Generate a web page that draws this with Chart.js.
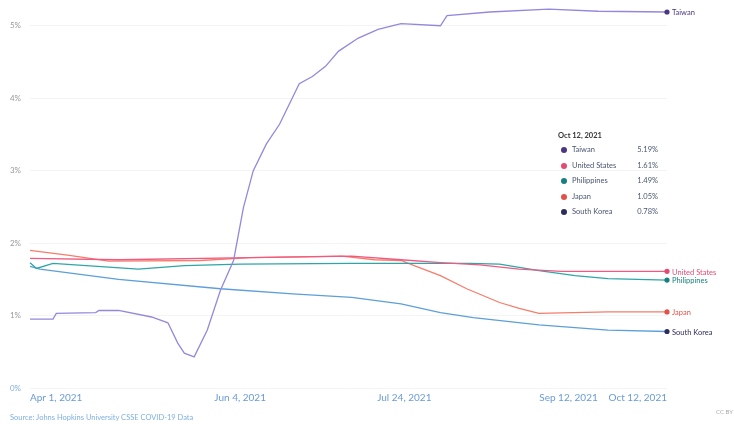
<!DOCTYPE html>
<html>
<head>
<meta charset="utf-8">
<script src="https://cdn.jsdelivr.net/npm/chart.js@4"></script>
<style>
  html, body { margin: 0; padding: 0; background: #fff; }
  #wrap { position: relative; width: 734px; height: 424px; font-family: Lato, "Open Sans", sans-serif; }
  #source { position: absolute; left: 10px; top: 413px; font-size: 7.5px; color: #7fb0e0; }
  #cc { position: absolute; left: 716px; top: 408px; font-size: 6px; color: #aaa; }
  #tip { position: absolute; left: 558px; top: 131px; font-size: 7.5px; color: #4a5570; }
  #tip .head { font-weight: bold; color: #333; margin-bottom: 5px; }
  #tip .row { position: relative; height: 15.5px; width: 100px; }
  #tip .dot { position: absolute; left: 3px; top: 2px; width: 6px; height: 6px; border-radius: 50%; }
  #tip .name { position: absolute; left: 14px; top: 0; }
  #tip .val { position: absolute; right: 0; top: 0; }
</style>
</head>
<body>
<div id="wrap">
  <canvas id="cfr" width="734" height="424"></canvas>
  <div id="tip"></div>
  <div id="source">Source: Johns Hopkins University CSSE COVID-19 Data</div>
  <div id="cc">CC BY</div>
</div>
<script>
// days counted from Apr 1, 2021
const tickDays = [0, 64, 114, 164, 194];
const tickLabels = ['Apr 1, 2021', 'Jun 4, 2021', 'Jul 24, 2021', 'Sep 12, 2021', 'Oct 12, 2021'];
const lastDate = 'Oct 12, 2021';

const countries = ['Taiwan', 'United States', 'Philippines', 'Japan', 'South Korea'];

const taiwanDays = [0, 7, 8, 20, 21, 27, 37, 42, 45, 47, 50, 54, 58, 62, 65, 68, 72, 76, 82, 86, 90, 94, 100, 106, 113, 125, 127, 140, 158, 173, 194];
const taiwanRate = [0.95, 0.95, 1.03, 1.04, 1.07, 1.07, 0.98, 0.9, 0.62, 0.48, 0.43, 0.8, 1.35, 1.76, 2.49, 3.0, 3.37, 3.64, 4.2, 4.3, 4.44, 4.65, 4.83, 4.95, 5.03, 5.0, 5.14, 5.19, 5.23, 5.2, 5.19];

const usDays = [0, 27, 67, 98, 113, 125, 137, 149, 162, 194];
const usRate = [1.79, 1.77, 1.8, 1.82, 1.77, 1.73, 1.7, 1.64, 1.61, 1.61];

const philDays = [0, 2, 7, 33, 47, 64, 98, 134, 143, 155, 166, 176, 194];
const philRate = [1.73, 1.65, 1.72, 1.64, 1.69, 1.71, 1.72, 1.72, 1.71, 1.62, 1.55, 1.51, 1.49];

const japanDays = [0, 12, 24, 52, 67, 95, 105, 113, 117, 125, 133, 143, 149, 155, 176, 194];
const japanRate = [1.9, 1.83, 1.75, 1.76, 1.8, 1.82, 1.77, 1.76, 1.69, 1.55, 1.37, 1.18, 1.1, 1.03, 1.05, 1.05];

const koreaDays = [0, 3, 27, 58, 80, 98, 113, 125, 135, 155, 176, 194];
const koreaRate = [1.68, 1.64, 1.5, 1.37, 1.3, 1.25, 1.16, 1.04, 0.97, 0.87, 0.8, 0.78];

const lineColors = ['#9488dc', '#ef5a80', '#2fa5a8', '#f57d6c', '#5d9fd8'];
const dotColors = ['#4b3680', '#e44a72', '#17807f', '#e0524a', '#2b2d5c'];

function pts(days, vals) {
  return days.map((d, i) => ({ x: d, y: vals[i] }));
}

const series = [
  pts(taiwanDays, taiwanRate),
  pts(usDays, usRate),
  pts(philDays, philRate),
  pts(japanDays, japanRate),
  pts(koreaDays, koreaRate)
];

// labels at the end of each line
const endLabels = {
  id: 'endLabels',
  afterDatasetsDraw(chart) {
    const ctx = chart.ctx;
    ctx.save();
    ctx.font = '7.5px Lato, sans-serif';
    ctx.textBaseline = 'middle';
    chart.data.datasets.forEach((ds, i) => {
      const meta = chart.getDatasetMeta(i);
      const p = meta.data[meta.data.length - 1];
      ctx.fillStyle = dotColors[i];
      ctx.fillText(ds.label, p.x + 5, p.y + 1);
    });
    ctx.restore();
  }
};

new Chart(document.getElementById('cfr'), {
  type: 'line',
  data: {
    datasets: series.map((data, i) => ({
      label: countries[i],
      data: data,
      borderColor: lineColors[i],
      backgroundColor: dotColors[i],
      borderWidth: 1.3,
      tension: 0,
      pointRadius: (c) => c.dataIndex === data.length - 1 ? 2.6 : 0,
      pointBorderWidth: 0,
      pointBackgroundColor: dotColors[i]
    }))
  },
  options: {
    responsive: false,
    animation: false,
    clip: false,
    layout: { autoPadding: false, padding: { left: 0, right: 67, top: 0, bottom: 0 } },
    plugins: { legend: { display: false }, tooltip: { enabled: false } },
    scales: {
      x: {
        type: 'linear',
        min: 0,
        max: 194,
        afterFit: (s) => { s.height = 36; },
        afterBuildTicks: (s) => { s.ticks = tickDays.map(v => ({ value: v })); },
        grid: { display: false, drawTicks: false },
        border: { display: false },
        ticks: {
          align: 'inner',
          maxRotation: 0,
          autoSkip: false,
          padding: 4,
          color: '#6a9bd8',
          font: { family: 'Lato', size: 10 },
          callback: (v, i) => tickLabels[i]
        }
      },
      y: {
        bounds: 'data',
        min: 0,
        max: 5.165,
        afterFit: (s) => { s.width = 30; },
        grid: { color: '#f4f4f4', drawTicks: false },
        border: { display: false },
        ticks: {
          stepSize: 1,
          includeBounds: false,
          padding: 9,
          color: (c) => c.tick.value === 0 ? '#7fb0e0' : '#999',
          font: { family: 'Lato', size: 8 },
          callback: (v) => v + '%'
        }
      }
    }
  },
  plugins: [endLabels]
});

// hover box for the last date
const tip = document.getElementById('tip');
let html = '<div class="head">' + lastDate + '</div>';
countries.forEach((c, i) => {
  const v = series[i][series[i].length - 1].y;
  html += '<div class="row"><span class="dot" style="background:' + dotColors[i] + '"></span>' +
    '<span class="name">' + c + '</span><span class="val">' + v.toFixed(2) + '%</span></div>';
});
tip.innerHTML = html;
</script>
</body>
</html>
